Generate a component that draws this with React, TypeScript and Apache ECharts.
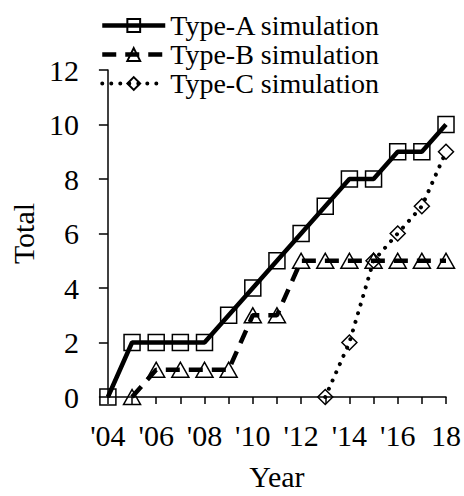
import React, { useEffect, useRef } from "react";
import * as echarts from "echarts";

const years = [2004, 2005, 2006, 2007, 2008, 2009, 2010, 2011, 2012, 2013, 2014, 2015, 2016, 2017, 2018];
const typeA = [0, 2, 2, 2, 2, 3, 4, 5, 6, 7, 8, 8, 9, 9, 10];
const typeBYears = [2005, 2006, 2007, 2008, 2009, 2010, 2011, 2012, 2013, 2014, 2015, 2016, 2017, 2018];
const typeB = [0, 1, 1, 1, 1, 3, 3, 5, 5, 5, 5, 5, 5, 5];
const typeCYears = [2013, 2014, 2015, 2016, 2017, 2018];
const typeC = [0, 2, 5, 6, 7, 9];
const xTickYears = [2004, 2006, 2008, 2010, 2012, 2014, 2016, 2018];
const xTickLabels = ["'04", "'06", "'08", "'10", "'12", "'14", "'16", "18"];
const seriesNames = ["Type-A simulation", "Type-B simulation", "Type-C simulation"];

const FONT = '"Liberation Serif", "Times New Roman", serif';

export default function App() {
  const ref = useRef<HTMLDivElement>(null);
  useEffect(() => {
    if (!ref.current) return;
    const chart = echarts.init(ref.current, null, { renderer: "svg" });
    const pairs = (xs: number[], ys: number[]) => xs.map((x, i) => [x, ys[i]]);
    const markerStyle = { color: "rgba(0,0,0,0)", borderColor: "#000", borderWidth: 1.5 };
    chart.setOption({
      animation: false,
      backgroundColor: "#fff",
      textStyle: { fontFamily: FONT, color: "#000" },
      legend: {
        orient: "vertical",
        left: 100,
        top: 11,
        padding: 0,
        itemWidth: 63,
        itemHeight: 16,
        itemGap: 0,
        lineStyle: { width: "inherit", type: "inherit" },
        textStyle: { fontFamily: FONT, fontSize: 28, color: "#000", lineHeight: 29 },
        data: seriesNames,
      },
      grid: { left: 92, right: 18, top: 70, bottom: 94, containLabel: false },
      xAxis: {
        type: "value",
        min: 2004,
        max: 2018,
        interval: 1,
        name: "Year",
        nameLocation: "middle",
        nameGap: 64,
        nameTextStyle: { fontFamily: FONT, fontSize: 30, color: "#000" },
        axisLine: { lineStyle: { color: "#000", width: 1.5 } },
        axisTick: { show: true, inside: false, length: 7, lineStyle: { color: "#000", width: 1.5 } },
        splitLine: { show: false },
        axisLabel: {
          fontFamily: FONT,
          fontSize: 30,
          color: "#000",
          margin: 23,
          showMinLabel: true,
          showMaxLabel: true,
          formatter: (v: number) => {
            const i = xTickYears.indexOf(v);
            return i >= 0 ? xTickLabels[i] : "";
          },
        },
      },
      yAxis: {
        type: "value",
        min: 0,
        max: 12,
        interval: 2,
        name: "Total",
        nameLocation: "middle",
        nameGap: 59,
        nameRotate: 90,
        nameTextStyle: { fontFamily: FONT, fontSize: 30, color: "#000" },
        axisLine: { show: true, lineStyle: { color: "#000", width: 1.5 } },
        axisTick: { show: true, inside: false, length: 9, lineStyle: { color: "#000", width: 1.5 } },
        splitLine: { show: false },
        axisLabel: { fontFamily: FONT, fontSize: 30, color: "#000", margin: 29 },
      },
      series: [
        {
          name: seriesNames[0],
          type: "line",
          data: pairs(years, typeA),
          symbol: "rect",
          symbolSize: 16,
          showAllSymbol: true,
          lineStyle: { color: "#000", width: 4.5 },
          itemStyle: markerStyle,
          z: 3,
        },
        {
          name: seriesNames[1],
          type: "line",
          data: pairs(typeBYears, typeB),
          symbol: "triangle",
          symbolSize: [17, 15],
          showAllSymbol: true,
          lineStyle: { color: "#000", width: 4.5, type: [14, 9] },
          itemStyle: markerStyle,
          z: 2,
        },
        {
          name: seriesNames[2],
          type: "line",
          data: pairs(typeCYears, typeC),
          symbol: "diamond",
          symbolSize: 15,
          showAllSymbol: true,
          lineStyle: { color: "#000", width: 4, type: [0.01, 9], cap: "round" },
          itemStyle: markerStyle,
          z: 1,
        },
      ],
    });
    return () => chart.dispose();
  }, []);
  return <div ref={ref} style={{ width: 464, height: 496, position: "absolute", left: 0, top: 0 }} />;
}
